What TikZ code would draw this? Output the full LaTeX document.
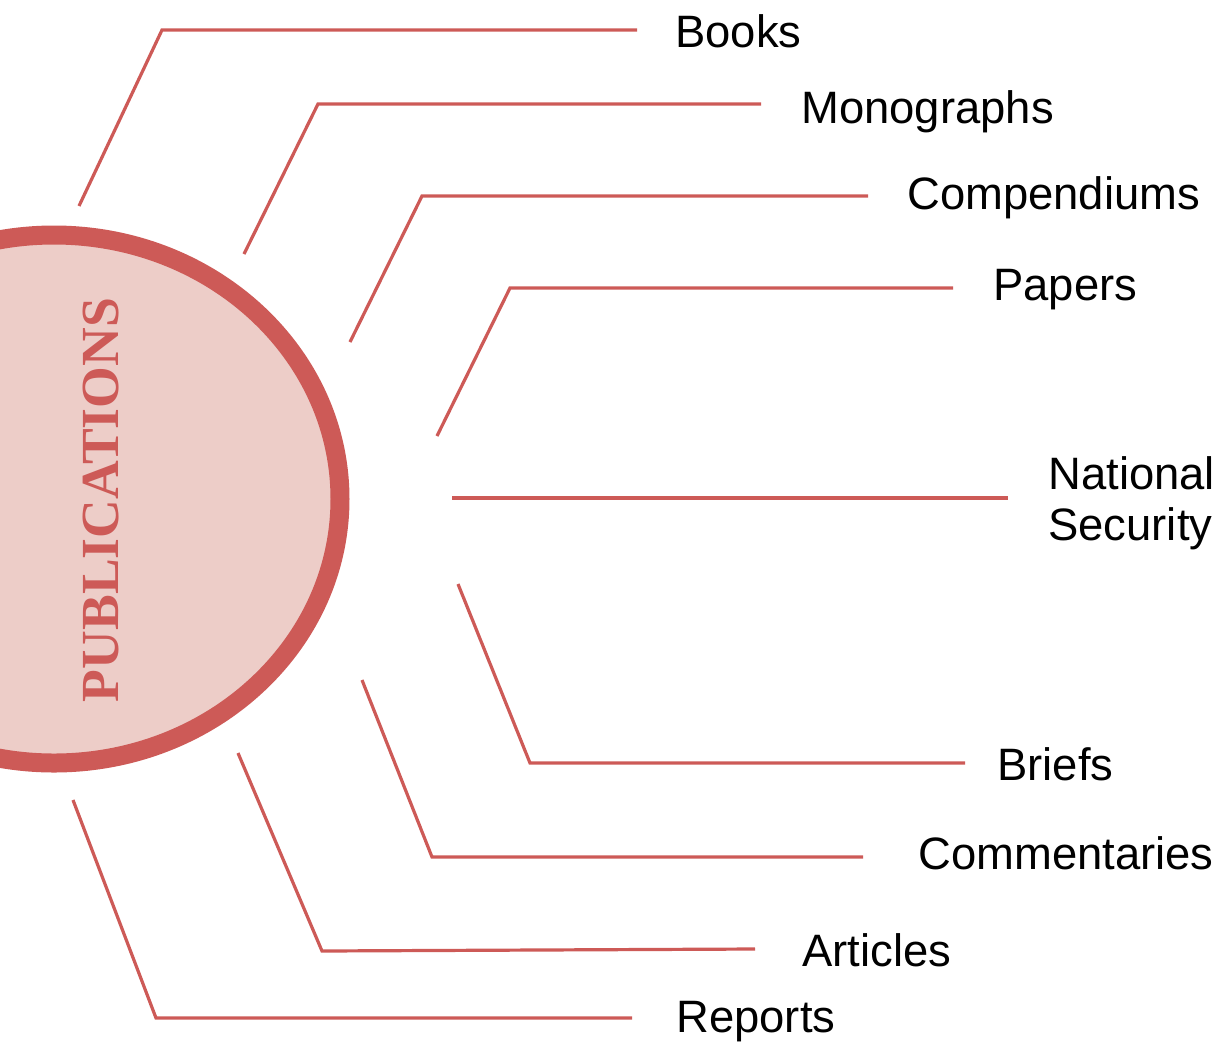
\documentclass[tikz,border=0pt]{standalone}
\usepackage{fontspec}
\setmainfont{Liberation Sans}
\newfontfamily\titlefont{Liberation Serif}
\usetikzlibrary{shapes.geometric}
\definecolor{pubred}{HTML}{CD5A57}
\definecolor{pubfill}{HTML}{EDCDC8}
\begin{document}
\begin{tikzpicture}[x=0.5pt,y=-0.5pt,
  lbl/.style={anchor=base west,inner sep=0pt,font=\fontsize{22.7}{25.5}\selectfont,align=left},
  conn/.style={draw=pubred,line width=1.6pt}]
\useasboundingbox (0,0) rectangle (1228,1041);
\clip (0,0) rectangle (1228,1041);
\node[ellipse,draw=pubred,fill=pubfill,line width=9.5pt,minimum width=286pt,minimum height=264pt,inner sep=0pt] (pub) at (54,499) {};
\node[rotate=90,inner sep=0pt,text=pubred,font=\titlefont\bfseries\fontsize{26.8}{28}\selectfont] (title) at (101,500) {PUBLICATIONS};
% labels
\node[lbl] (books) at (675,47) {Books};
\node[lbl] (mono) at (801,123) {Monographs};
\node[lbl] (comp) at (907,209) {Compendiums};
\node[lbl] (papers) at (993,300) {Papers};
\node[lbl] (natsec) at (1048,540) {National\\Security};
\node[lbl] (briefs) at (997,780) {Briefs};
\node[lbl] (comm) at (918,869) {Commentaries};
\node[lbl] (art) at (802,966) {Articles};
\node[lbl] (rep) at (676,1032) {Reports};
% connector points
\coordinate (s1) at (79,206);  \coordinate (c1) at (162,30);  \coordinate (e1) at (637,30);
\coordinate (s2) at (244,254); \coordinate (c2) at (318,104); \coordinate (e2) at (761,104);
\coordinate (s3) at (350,342); \coordinate (c3) at (422,196); \coordinate (e3) at (868,196);
\coordinate (s4) at (437,436); \coordinate (c4) at (510,288); \coordinate (e4) at (953,288);
\coordinate (s5) at (452,498); \coordinate (e5) at (1008,498);
\coordinate (s6) at (458,584); \coordinate (c6) at (530,763); \coordinate (e6) at (965,763);
\coordinate (s7) at (362,680); \coordinate (c7) at (432,857); \coordinate (e7) at (863,857);
\coordinate (s8) at (238,753); \coordinate (c8) at (322,951); \coordinate (e8) at (755,949);
\coordinate (s9) at (73,800);  \coordinate (c9) at (156,1018); \coordinate (e9) at (632,1018);
\draw[conn] (s1) -- (c1) -- (e1);
\draw[conn] (s2) -- (c2) -- (e2);
\draw[conn] (s3) -- (c3) -- (e3);
\draw[conn] (s4) -- (c4) -- (e4);
\draw[conn] (s5) -- (e5);
\draw[conn] (s6) -- (c6) -- (e6);
\draw[conn] (s7) -- (c7) -- (e7);
\draw[conn] (s8) -- (c8) -- (e8);
\draw[conn] (s9) -- (c9) -- (e9);
\end{tikzpicture}
\end{document}
